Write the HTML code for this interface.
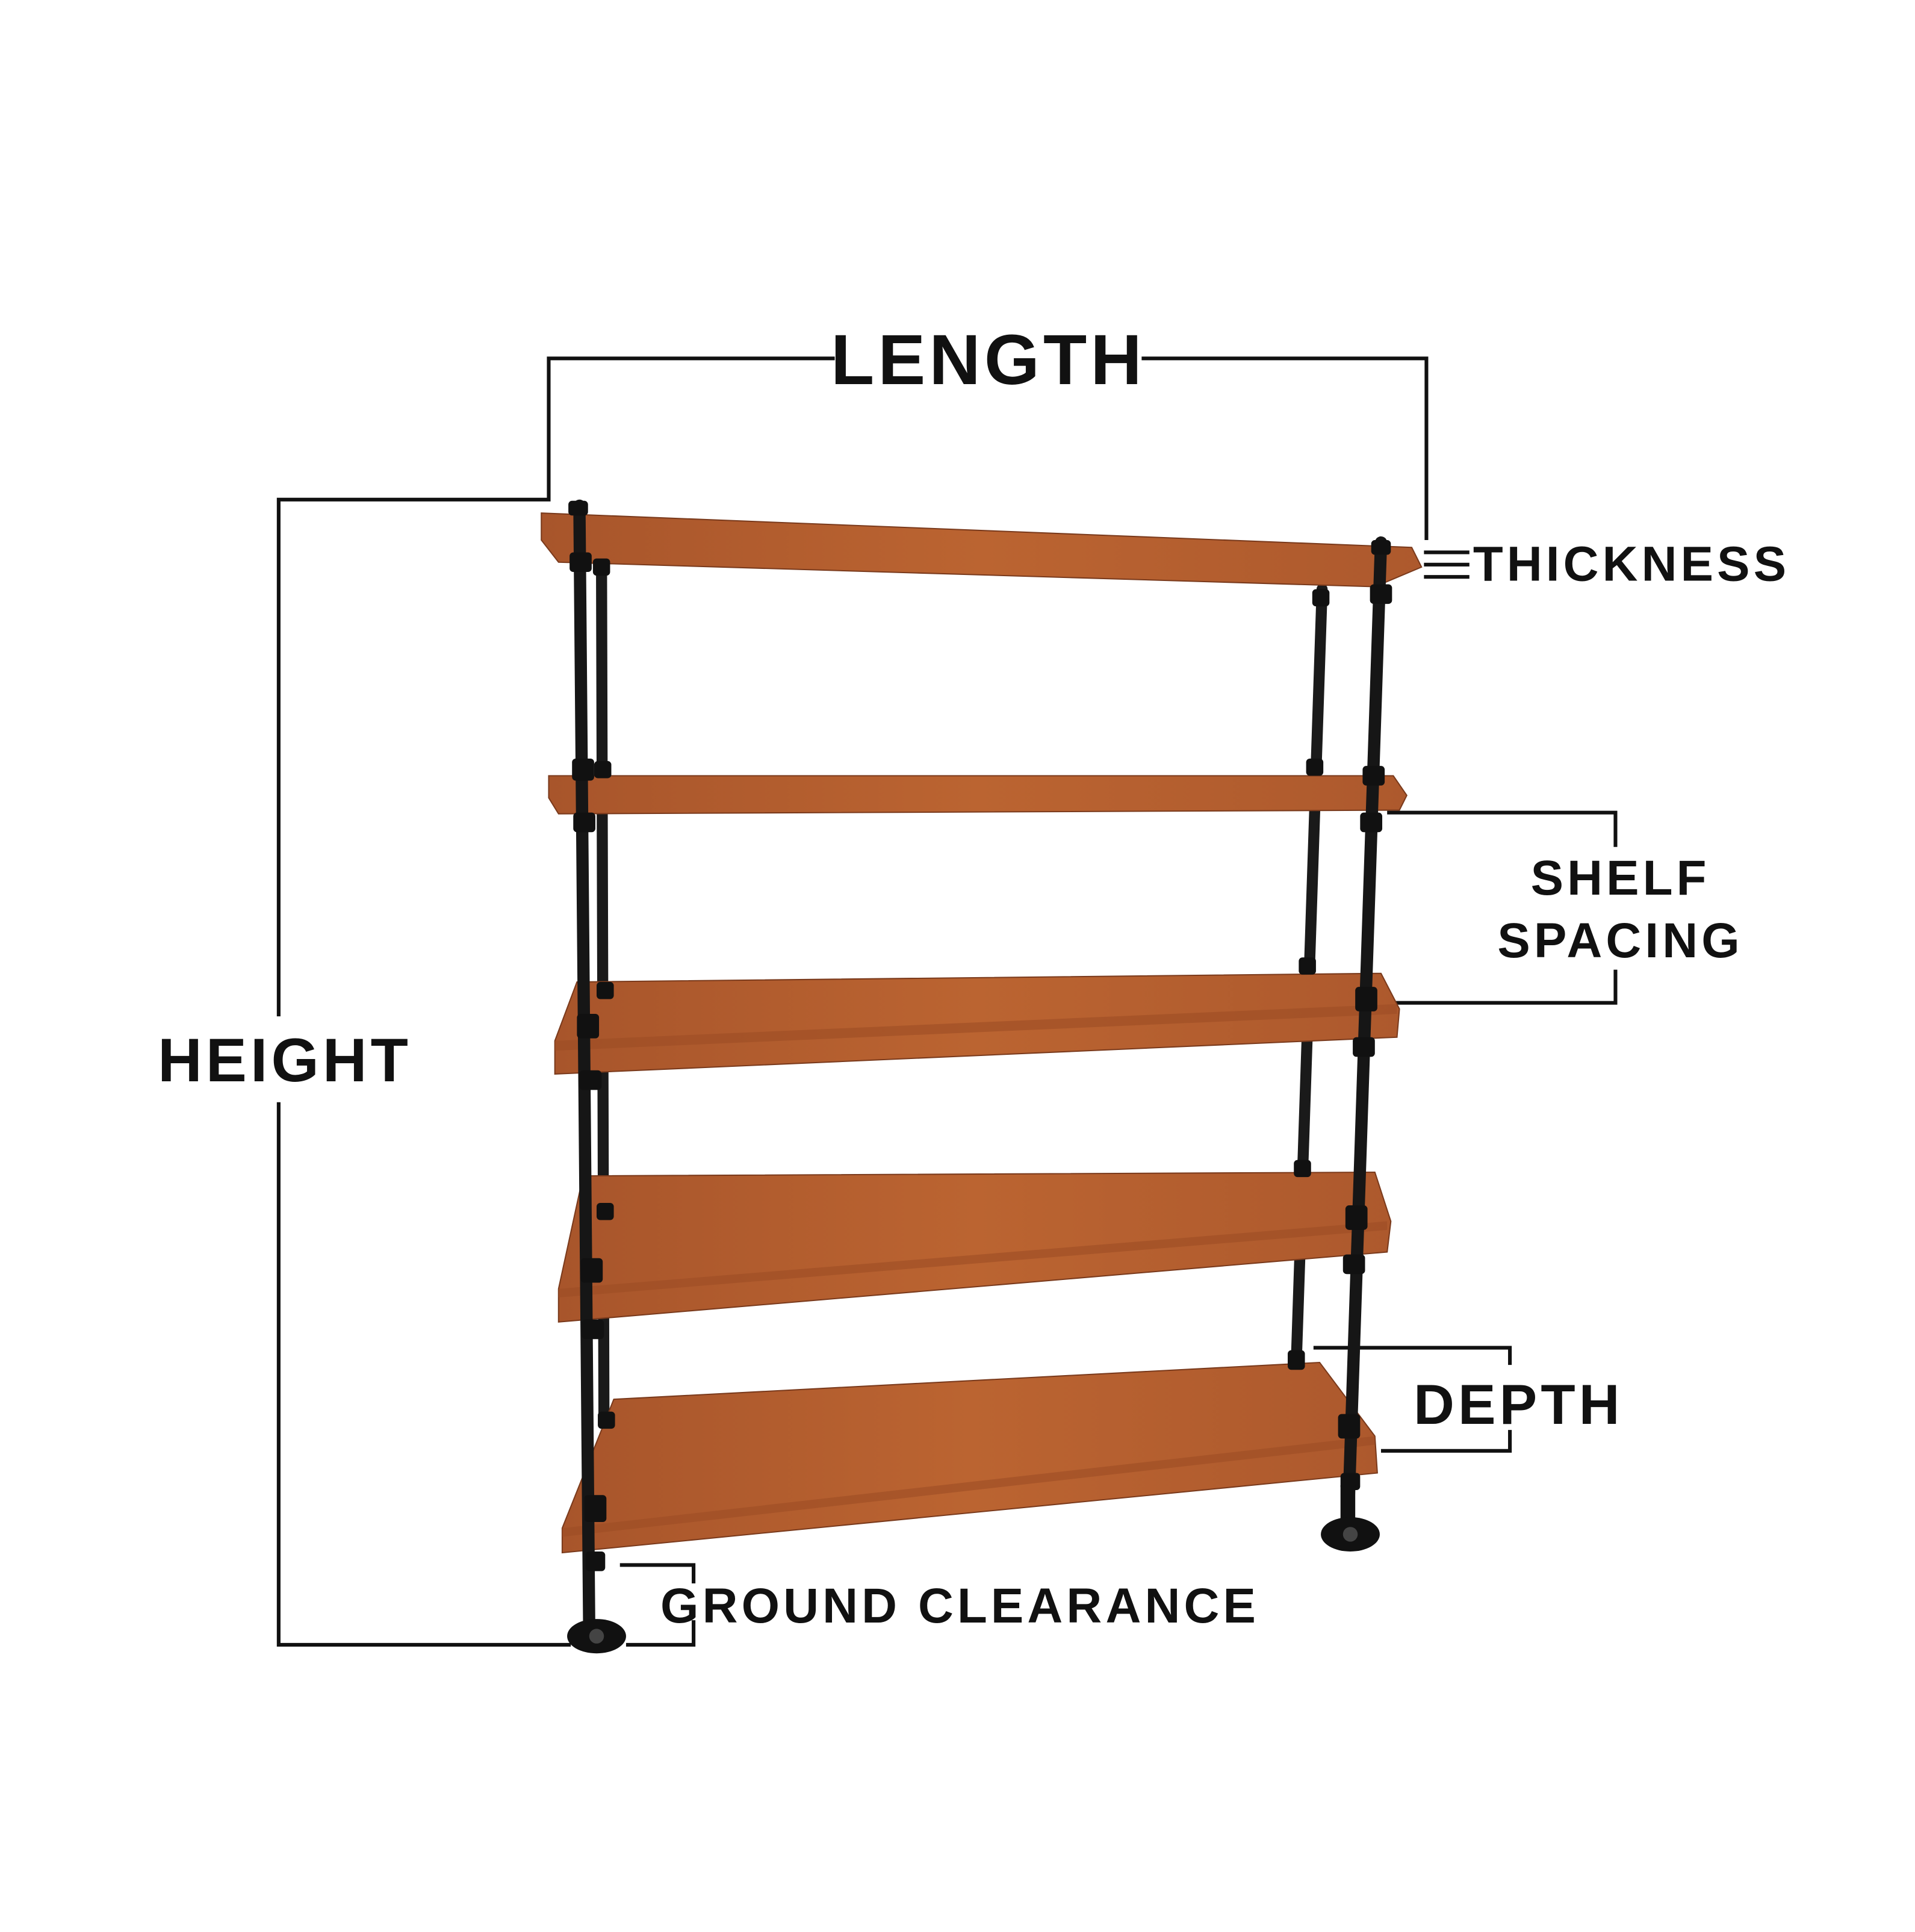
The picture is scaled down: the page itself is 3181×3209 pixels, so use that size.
<!DOCTYPE html>
<html><head><meta charset="utf-8"><style>
html,body{margin:0;padding:0;background:#fff;}
svg{display:block;}
text{font-family:"Liberation Sans","DejaVu Sans",sans-serif;font-weight:bold;fill:#111;}
</style></head><body>
<svg width="3181" height="3209" viewBox="0 0 1560 1574" preserveAspectRatio="none" xmlns="http://www.w3.org/2000/svg">
<defs>
<linearGradient id="w" x1="0" y1="0" x2="1" y2="0">
<stop offset="0" stop-color="#a8552b"/><stop offset="0.5" stop-color="#bb6431"/><stop offset="1" stop-color="#ad592d"/>
</linearGradient>
</defs>
<rect width="1560" height="1574" fill="#fff"/>
<g fill="none" stroke="#111" stroke-width="3">
<polyline points="680,292 447,292 447,407 227,407 227,828"/>
<polyline points="227,898 227,1340 465,1340"/>
<polyline points="930,292 1162,292 1162,440"/>
<line x1="1160" y1="450" x2="1197" y2="450"/><line x1="1160" y1="460" x2="1197" y2="460"/><line x1="1160" y1="470" x2="1197" y2="470"/>
<polyline points="1130,662 1316,662 1316,690"/>
<polyline points="1316,790 1316,817 1130,817"/>
<polyline points="1070,1098 1230,1098 1230,1112"/>
<polyline points="1230,1165 1230,1182 1125,1182"/>
<polyline points="505,1275 565,1275 565,1290"/>
<polyline points="565,1320 565,1340 510,1340"/>
</g>
<text x="805" y="313" font-size="58" text-anchor="middle" letter-spacing="3">LENGTH</text>
<text x="232" y="881" font-size="50" text-anchor="middle" letter-spacing="3">HEIGHT</text>
<text x="1200" y="473" font-size="40" letter-spacing="3">THICKNESS</text>
<text x="1320" y="729" font-size="40" text-anchor="middle" letter-spacing="3">SHELF</text>
<text x="1320" y="780" font-size="40" text-anchor="middle" letter-spacing="3">SPACING</text>
<text x="1237" y="1160" font-size="46" text-anchor="middle" letter-spacing="3">DEPTH</text>
<text x="538" y="1322" font-size="40" letter-spacing="3">GROUND CLEARANCE</text>
<g stroke="#1a1a1a" stroke-linecap="round">
<line x1="490" y1="455" x2="492" y2="1160" stroke-width="9"/>
<line x1="1077" y1="480" x2="1056" y2="1110" stroke-width="9"/>
</g>
<g stroke="#7a3a1c" stroke-width="1">
<polygon points="441,418 1150,446 1158,462 1120,478 455,458 441,440" fill="url(#w)"/>
<polygon points="447,632 1135,632 1146,648 1140,660 455,663 447,650" fill="url(#w)"/>
<polygon points="470,800 1125,793 1140,822 1138,845 452,875 452,848" fill="url(#w)"/>
<polygon points="475,958 1120,955 1133,995 1130,1020 455,1077 455,1050" fill="url(#w)"/>
<polygon points="500,1140 1075,1110 1120,1170 1122,1200 458,1265 458,1245" fill="url(#w)"/>
</g>
<g fill="#9c4c25" opacity="0.6">
<polygon points="452,848 1138,818 1138,826 452,856"/>
<polygon points="455,1050 1130,995 1130,1002 455,1057"/>
<polygon points="458,1245 1120,1170 1120,1177 458,1252"/>
</g>
<g stroke="#161616" stroke-linecap="round">
<line x1="472" y1="412" x2="480" y2="1330" stroke-width="10"/>
<line x1="1125" y1="442" x2="1098" y2="1245" stroke-width="10"/>
</g>
<g fill="#111">
<rect x="463" y="408" width="16" height="12" rx="3"/>
<rect x="1117" y="440" width="16" height="12" rx="3"/>
<rect x="464" y="450" width="18" height="16" rx="3"/><rect x="483" y="455" width="14" height="14" rx="3"/>
<rect x="1116" y="476" width="18" height="16" rx="3"/><rect x="1069" y="480" width="14" height="14" rx="3"/>
<rect x="466" y="618" width="18" height="18" rx="3"/><rect x="484" y="620" width="14" height="14" rx="3"/>
<rect x="1110" y="624" width="18" height="16" rx="3"/><rect x="1064" y="618" width="14" height="14" rx="3"/>
<rect x="467" y="662" width="18" height="16" rx="3"/><rect x="1108" y="662" width="18" height="16" rx="3"/>
<rect x="470" y="826" width="18" height="20" rx="3"/><rect x="1104" y="804" width="18" height="20" rx="3"/>
<rect x="1058" y="780" width="14" height="14" rx="3"/><rect x="486" y="800" width="14" height="14" rx="3"/>
<rect x="472" y="872" width="18" height="16" rx="3"/><rect x="1102" y="845" width="18" height="16" rx="3"/>
<rect x="473" y="1025" width="18" height="20" rx="3"/><rect x="1096" y="982" width="18" height="20" rx="3"/>
<rect x="486" y="980" width="14" height="14" rx="3"/><rect x="1054" y="945" width="14" height="14" rx="3"/>
<rect x="474" y="1075" width="18" height="16" rx="3"/><rect x="1094" y="1022" width="18" height="16" rx="3"/>
<rect x="476" y="1218" width="18" height="22" rx="3"/><rect x="1090" y="1152" width="18" height="20" rx="3"/>
<rect x="487" y="1150" width="14" height="14" rx="3"/><rect x="1049" y="1100" width="14" height="16" rx="3"/>
<rect x="477" y="1264" width="16" height="16" rx="3"/><rect x="1092" y="1200" width="16" height="14" rx="3"/>
<rect x="1092" y="1210" width="12" height="35"/>
<ellipse cx="486" cy="1333" rx="24" ry="14"/>
<ellipse cx="1100" cy="1250" rx="24" ry="14"/>
</g>
<g fill="#444"><circle cx="486" cy="1333" r="6"/><circle cx="1100" cy="1250" r="6"/></g>
</svg>
</body></html>
